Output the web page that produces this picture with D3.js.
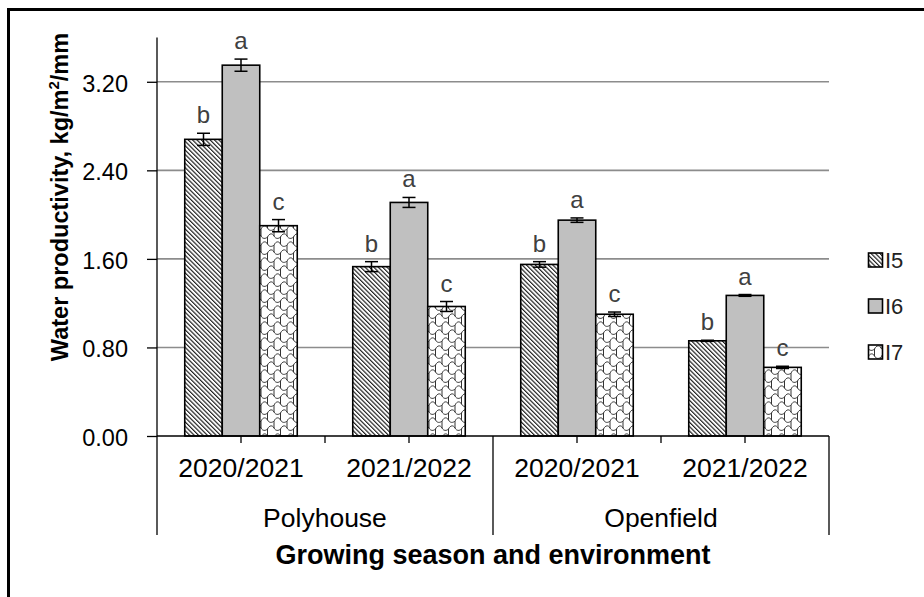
<!DOCTYPE html>
<html>
<head>
<meta charset="utf-8">
<script src="https://cdn.jsdelivr.net/npm/d3@7"></script>
<style>
    body { margin: 0; background: #fff; }
    svg { display: block; }
    text { font-family: "Liberation Sans", Arial, sans-serif; }
</style>
</head>
<body>
<svg id="chart" width="924" height="597"></svg>
<script>
var seasons = ["2020/2021", "2021/2022", "2020/2021", "2021/2022"];
var environments = ["Polyhouse", "Openfield"];
var seriesNames = ["I5", "I6", "I7"];
var i5Values = [2.68, 1.53, 1.55, 0.86];
var i6Values = [3.35, 2.11, 1.95, 1.27];
var i7Values = [1.90, 1.17, 1.10, 0.62];
var i5Errors = [0.055, 0.045, 0.025, 0.005];
var i6Errors = [0.055, 0.045, 0.02, 0.008];
var i7Errors = [0.055, 0.045, 0.02, 0.01];
var groupLetters = ["b", "a", "c"];
var yTicks = [0, 0.8, 1.6, 2.4, 3.2];

var svg = d3.select("#chart");
var plotLeft = 157, plotRight = 829, plotTop = 37.5, plotBottom = 436;

// Patterns for the bars
var defs = svg.append("defs");
defs.append("pattern")
    .attr("id", "hatch")
    .attr("patternUnits", "userSpaceOnUse")
    .attr("width", 3.1).attr("height", 3.1)
    .attr("patternTransform", "rotate(-45)")
    .call(function(p) {
        p.append("rect").attr("width", 3.1).attr("height", 3.1).attr("fill", "white");
        p.append("line").attr("x1", 0.6).attr("y1", 0).attr("x2", 0.6).attr("y2", 3.1)
            .attr("stroke", "#111").attr("stroke-width", 1.1);
    });
defs.append("pattern")
    .attr("id", "shingle")
    .attr("patternUnits", "userSpaceOnUse")
    .attr("width", 13).attr("height", 16)
    .call(function(p) {
        p.append("rect").attr("width", 13).attr("height", 16).attr("fill", "white");
        p.append("path")
            .attr("d", "M0,5 C2,1 5,1 6.5,4 C8,7 11,7 13,5" +
                " M-6.5,13 C-4.5,9 -1.5,9 0,12 C1.5,15 4.5,15 6.5,13 C8.5,9 11.5,9 13,12 C14.5,15 17.5,15 19.5,13" +
                " M0,5 L0,12 M13,5 L13,12 M6.5,13 L6.5,20 M6.5,-3 L6.5,4")
            .attr("fill", "none").attr("stroke", "#333").attr("stroke-width", 1);
    });
var fills = { I5: "url(#hatch)", I6: "#c0c0c0", I7: "url(#shingle)" };

var data = seasons.map(function(s, i) {
    return {
        id: "g" + i,
        values: [
            { name: "I5", value: i5Values[i], err: i5Errors[i], letter: groupLetters[0] },
            { name: "I6", value: i6Values[i], err: i6Errors[i], letter: groupLetters[1] },
            { name: "I7", value: i7Values[i], err: i7Errors[i], letter: groupLetters[2] }
        ]
    };
});

var x0 = d3.scaleBand().domain(data.map(function(d) { return d.id; }))
    .range([plotLeft, plotRight]).padding(0);
var x1 = d3.scaleBand().domain(seriesNames)
    .range([0, x0.bandwidth()]).paddingInner(0).paddingOuter(0.74);
var y = d3.scaleLinear().domain([0, 3.6]).range([plotBottom, plotTop]);

// Outer frame
svg.append("rect")
    .attr("x", 8.5).attr("y", 9.5).attr("width", 1000).attr("height", 1000)
    .attr("fill", "none").attr("stroke", "#000").attr("stroke-width", 3);

// Gridlines
svg.append("g").selectAll("line")
    .data(yTicks.filter(function(t) { return t > 0; }))
    .enter().append("line")
    .attr("x1", plotLeft).attr("x2", plotRight)
    .attr("y1", function(d) { return y(d); }).attr("y2", function(d) { return y(d); })
    .attr("stroke", "#8c8c8c").attr("stroke-width", 1.6);

// Y axis
var yAxis = svg.append("g")
    .attr("transform", "translate(" + plotLeft + ",0)")
    .call(d3.axisLeft(y).tickValues(yTicks).tickFormat(d3.format(".2f")).tickSize(10).tickPadding(19));
yAxis.select(".domain").attr("d", "M0," + plotTop + "V" + plotBottom).attr("stroke", "#000").attr("stroke-width", 1.3);
yAxis.selectAll(".tick line").attr("stroke", "#000").attr("stroke-width", 1.3);
yAxis.selectAll(".tick text")
    .attr("font-size", 23.5).attr("fill", "#000")
    .attr("font-family", "'Liberation Sans', Arial, sans-serif")
    .attr("dy", "0.4em");

// Bars
var groups = svg.append("g").selectAll("g")
    .data(data).enter().append("g")
    .attr("transform", function(d) { return "translate(" + x0(d.id) + ",0)"; });

groups.selectAll("rect")
    .data(function(d) { return d.values; })
    .enter().append("rect")
    .attr("x", function(d) { return x1(d.name); })
    .attr("y", function(d) { return y(d.value); })
    .attr("width", x1.bandwidth())
    .attr("height", function(d) { return y(0) - y(d.value); })
    .attr("fill", function(d) { return fills[d.name]; })
    .attr("stroke", "#000").attr("stroke-width", 1.6);

// Error bars
var errs = groups.selectAll("g.err")
    .data(function(d) { return d.values; })
    .enter().append("g").attr("class", "err")
    .attr("stroke", "#000").attr("stroke-width", 1.5);
errs.append("line")
    .attr("x1", function(d) { return x1(d.name) + x1.bandwidth() / 2; })
    .attr("x2", function(d) { return x1(d.name) + x1.bandwidth() / 2; })
    .attr("y1", function(d) { return y(d.value + d.err); })
    .attr("y2", function(d) { return y(d.value - d.err); });
errs.selectAll("line.cap")
    .data(function(d) { return [d.value + d.err, d.value - d.err].map(function(v) { return { name: d.name, v: v }; }); })
    .enter().append("line").attr("class", "cap")
    .attr("x1", function(d) { return x1(d.name) + x1.bandwidth() / 2 - 6.5; })
    .attr("x2", function(d) { return x1(d.name) + x1.bandwidth() / 2 + 6.5; })
    .attr("y1", function(d) { return y(d.v); })
    .attr("y2", function(d) { return y(d.v); });

// Significance letters
groups.selectAll("text.letter")
    .data(function(d) { return d.values; })
    .enter().append("text").attr("class", "letter")
    .attr("x", function(d) { return x1(d.name) + x1.bandwidth() / 2; })
    .attr("y", function(d) { return y(d.value + d.err) - 10; })
    .attr("text-anchor", "middle")
    .attr("font-family", "Lato, 'Open Sans', sans-serif")
    .attr("font-size", 24).attr("fill", "#404040")
    .text(function(d) { return d.letter; });

// X axis, ticks at every half category
svg.append("line")
    .attr("x1", plotLeft).attr("x2", plotRight).attr("y1", plotBottom).attr("y2", plotBottom)
    .attr("stroke", "#000").attr("stroke-width", 1.3);
var halfTicks = data.map(function(d) { return x0(d.id) + x0.bandwidth() / 2; })
    .concat([x0(data[1].id), x0(data[3].id)]);
svg.append("g").selectAll("line")
    .data(halfTicks)
    .enter().append("line")
    .attr("x1", function(d) { return d; }).attr("x2", function(d) { return d; })
    .attr("y1", plotBottom).attr("y2", plotBottom + 7)
    .attr("stroke", "#000").attr("stroke-width", 1.3);

// Long separators between environments
svg.append("g").selectAll("line")
    .data([plotLeft, x0(data[2].id), plotRight])
    .enter().append("line")
    .attr("x1", function(d) { return d; }).attr("x2", function(d) { return d; })
    .attr("y1", plotBottom).attr("y2", 535)
    .attr("stroke", "#000").attr("stroke-width", 1.3);

svg.append("g").selectAll("text")
    .data(data).enter().append("text")
    .attr("x", function(d) { return x0(d.id) + x0.bandwidth() / 2; })
    .attr("y", 477)
    .attr("text-anchor", "middle")
    .attr("font-size", 26.5).attr("fill", "#000")
    .text(function(d, i) { return seasons[i]; });

svg.append("g").selectAll("text")
    .data(environments).enter().append("text")
    .attr("x", function(d, i) { return (x0(data[i * 2].id) + x0(data[i * 2 + 1].id) + x0.bandwidth()) / 2; })
    .attr("y", 527)
    .attr("text-anchor", "middle")
    .attr("font-size", 26.5).attr("fill", "#000")
    .text(function(d) { return d; });

// Axis titles
svg.append("text")
    .attr("x", (plotLeft + plotRight) / 2).attr("y", 564)
    .attr("text-anchor", "middle")
    .attr("font-size", 27).attr("font-weight", "bold").attr("fill", "#000")
    .text("Growing season and environment");

svg.append("text")
    .attr("transform", "translate(68,197) rotate(-90)")
    .attr("text-anchor", "middle")
    .attr("font-size", 23.5).attr("font-weight", "bold").attr("fill", "#000")
    .call(function(t) {
        t.append("tspan").text("Water productivity, kg/m");
        t.append("tspan").attr("font-size", 15).attr("dy", -9).text("2");
        t.append("tspan").attr("dy", 9).text("/mm");
    });

// Legend
var legend = svg.append("g").selectAll("g")
    .data(seriesNames).enter().append("g")
    .attr("transform", function(d, i) { return "translate(868," + (260 + i * 46) + ")"; });
legend.append("rect")
    .attr("x", 0.5).attr("y", -7).attr("width", 14).attr("height", 14)
    .attr("fill", function(d) { return fills[d]; })
    .attr("stroke", "#000").attr("stroke-width", 1.6);
legend.append("text")
    .attr("x", 17).attr("y", 0).attr("dy", "0.36em")
    .attr("font-family", "Lato, 'Open Sans', sans-serif")
    .attr("font-size", 22).attr("fill", "#222")
    .text(function(d) { return d; });
</script>
</body>
</html>
